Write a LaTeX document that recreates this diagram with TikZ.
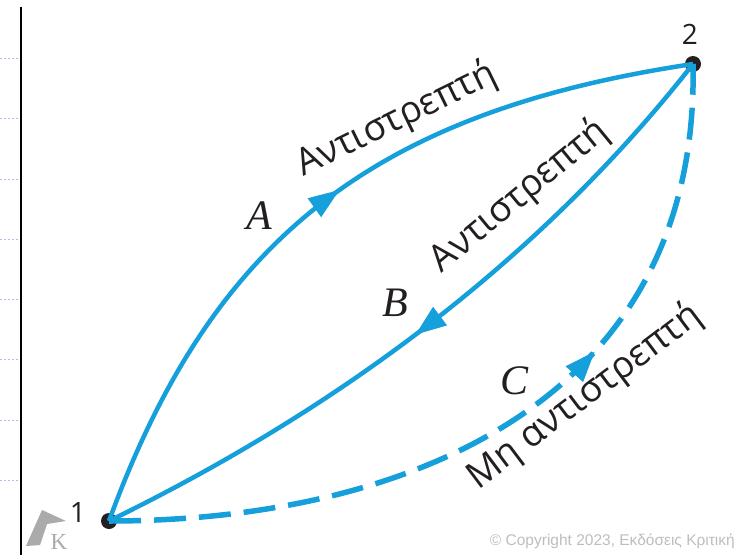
\documentclass[tikz,border=0pt]{standalone}
\usepackage{fontspec}
\setmainfont{Liberation Serif}
\newfontfamily\grfont{Open Sans}
\newfontfamily\tmsfont{Liberation Serif}
\newfontfamily\arsfont{Liberation Sans}
\usetikzlibrary{arrows.meta,decorations.markings}
\definecolor{pathblue}{RGB}{22,160,219}
\definecolor{inkgray}{RGB}{35,31,32}
\definecolor{rulelight}{RGB}{176,190,240}
\definecolor{logogray}{RGB}{190,190,190}
\begin{document}
\begin{tikzpicture}[x=1pt,y=-1pt,
  solidpath/.style={draw=pathblue,line width=4.5pt},
  dashpath/.style={draw=pathblue,line width=5.5pt,dash pattern=on 32pt off 13pt},
  midarrow/.style={postaction={decorate,decoration={markings,
     mark=at position #1 with {\arrow{Triangle[length=31pt,width=22pt]}}}}},
  statedot/.style={circle,fill=inkgray,inner sep=0pt,minimum size=16pt},
  numlabel/.style={text=inkgray,font=\grfont\fontsize{28}{30}\selectfont,inner sep=0pt},
  proclabel/.style={text=inkgray,font=\grfont\fontsize{37}{40}\selectfont,inner sep=0pt,anchor=base},
  pathname/.style={text=inkgray,font=\tmsfont\itshape\fontsize{42}{44}\selectfont,inner sep=0pt},
  leftrule/.style={draw=black,line width=2.5pt},
  marginmark/.style={draw=rulelight,line width=0.8pt,dash pattern=on 2pt off 2pt}
]
\useasboundingbox (0,0) rectangle (740,555);
\fill[white] (0,0) rectangle (740,555);

% left margin marks and rule
\foreach \yy in {58,118,179,239,299,359,420,480} {
  \draw[marginmark] (0,\yy) -- (19,\yy);
}
\draw[leftrule] (21,7) -- (21,555);

% logo
\fill[logogray!90!black] (26,546) -- (42,510) -- (66,521) -- (47,524) -- (40,545) -- cycle;
\node[text=logogray!90!black,font=\fontsize{23}{24}\selectfont,inner sep=0pt] (logoK) at (59,542) {K};

% states
\node[statedot] (n1) at (109,521) {};
\node[statedot] (n2) at (693,64) {};
\node[numlabel] (l1) at (78,512) {1};
\node[numlabel] (l2) at (690,34) {2};

% processes
\path[solidpath,midarrow=0.52] (n1.center) .. controls (212,239) and (373,112) .. (n2.center);
\path[solidpath,midarrow=0.52] (n2.center) .. controls (548,249) and (353,402) .. (n1.center);
\path[dashpath,midarrow=0.63] (n1.center) .. controls (409,521) and (700,400) .. (n2.center);

% labels
\node[proclabel,rotate=26] (tA) at (401,129) {Αντιστρεπτή};
\node[proclabel,rotate=39.5] (tB) at (526,204) {Αντιστρεπτή};
\node[proclabel,rotate=37] (tC) at (591,405) {Μη αντιστρεπτή};
\node[pathname] (pA) at (259,216) {A};
\node[pathname] (pB) at (395,303) {B};
\node[pathname] (pC) at (515,381) {C};

% copyright
\node[text=logogray,font=\arsfont\fontsize{15.5}{17}\selectfont,anchor=east,inner sep=0pt] (copy) at (735,541) {© Copyright 2023, Εκδόσεις Κριτική};
\end{tikzpicture}
\end{document}
